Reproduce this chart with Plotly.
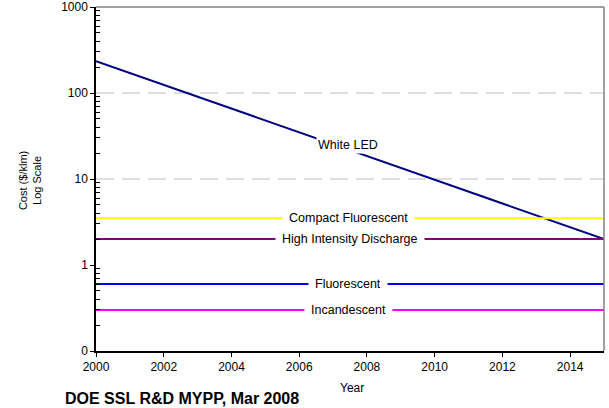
import math
import plotly.graph_objects as go

# ---- data ----
years = [2000, 2015]
white_led = [235, 2.0]
compact_fluorescent = [3.5, 3.5]
hid = [2.0, 2.0]
fluorescent = [0.6, 0.6]
incandescent = [0.3, 0.3]

series_names = ["White LED", "Compact Fluorescent", "High Intensity Discharge",
                "Fluorescent", "Incandescent"]
series_values = [white_led, compact_fluorescent, hid, fluorescent, incandescent]
series_colors = ["#000080", "#FFFF00", "#800080", "#0000FF", "#FF00FF"]
label_x = [2007.45, 2007.45, 2007.5, 2007.45, 2007.45]
label_y = [25, 3.5, 2.0, 0.6, 0.3]
label_pad = [1, 6, 6, 6, 6]

y_tickvals = [0.1, 1, 10, 100, 1000]
y_ticktext = ["0", "1", "10", "100", "1000"]
y_minor = [m * d for d in [0.1, 1, 10, 100] for m in range(2, 10)]
x_tickvals = [2000, 2002, 2004, 2006, 2008, 2010, 2012, 2014]
grid_values = [10, 100]

FONT = "Liberation Sans, Arial, sans-serif"

fig = go.Figure()
for name, vals, col in zip(series_names, series_values, series_colors):
    fig.add_trace(go.Scatter(x=years, y=vals, mode="lines", name=name,
                             line=dict(color=col, width=2), hoverinfo="skip"))

shapes = []
for g in grid_values:
    shapes.append(dict(type="line", xref="paper", yref="y", x0=0, x1=1,
                       y0=g, y1=g, layer="below",
                       line=dict(color="#C0C0C0", width=1, dash="18px,8px")))
# top and right border
shapes.append(dict(type="line", xref="paper", yref="paper", x0=0, x1=1, y0=1, y1=1,
                   line=dict(color="#808080", width=1.5)))
shapes.append(dict(type="line", xref="paper", yref="paper", x0=1, x1=1, y0=0, y1=1,
                   line=dict(color="#808080", width=1.5)))

annotations = []
for name, lx, ly, pad in zip(series_names, label_x, label_y, label_pad):
    annotations.append(dict(x=lx, y=math.log10(ly), xref="x", yref="y", text=name,
                            showarrow=False, bgcolor="white", borderpad=pad,
                            font=dict(family=FONT, size=12.5, color="black")))
annotations.append(dict(x=-0.065, y=-0.1395, xref="paper", yref="paper",
                        xanchor="left", yanchor="middle", showarrow=False,
                        text="<b>DOE SSL R&D MYPP, Mar 2008</b>",
                        font=dict(family=FONT, size=16, color="black")))
annotations.append(dict(x=0.503, y=-0.1076, xref="paper", yref="paper",
                        xanchor="center", yanchor="middle", showarrow=False,
                        text="Year", font=dict(family=FONT, size=12, color="black")))
annotations.append(dict(x=-0.1299, y=0.494, xref="paper", yref="paper",
                        xanchor="center", yanchor="middle", showarrow=False,
                        textangle=-90, text="Cost ($/klm)<br>Log Scale",
                        font=dict(family=FONT, size=11, color="black")))

fig.update_layout(
    width=609, height=408,
    margin=dict(l=96, r=5, t=7, b=57, autoexpand=False),
    paper_bgcolor="white", plot_bgcolor="white",
    showlegend=False,
    shapes=shapes,
    annotations=annotations,
    font=dict(family=FONT, size=12, color="black"),
    xaxis=dict(range=[2000, 2015], tickvals=x_tickvals, ticks="outside", ticklen=4,
               tickcolor="black", showline=True, linecolor="black", linewidth=1.5,
               showgrid=False, zeroline=False, automargin=False,
               tickfont=dict(family=FONT, size=12, color="black")),
    yaxis=dict(type="log", range=[-1, 3], tickvals=y_tickvals, ticktext=y_ticktext,
               ticks="outside", ticklen=4, tickcolor="black", showline=True,
               linecolor="black", linewidth=1.5, showgrid=False, zeroline=False,
               automargin=False,
               tickfont=dict(family=FONT, size=12, color="black"),
               minor=dict(tickvals=y_minor, ticks="inside", ticklen=4,
                          tickcolor="black", showgrid=False)),
)

fig.write_html("out.html", config={"displayModeBar": False},
               post_script="document.body.style.margin='0';document.body.style.overflow='hidden';")
